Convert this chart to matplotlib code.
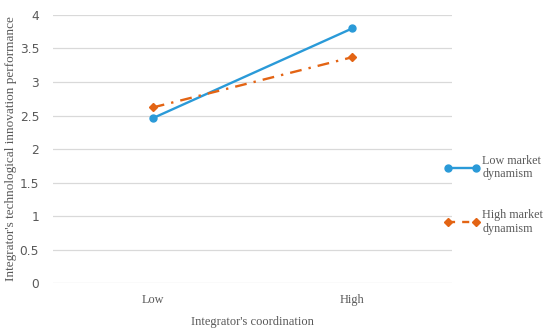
import matplotlib
matplotlib.use('Agg')
import matplotlib.pyplot as plt
from matplotlib.lines import Line2D

# data
categories = ['Low', 'High']
low_dyn = [2.46, 3.80]
high_dyn = [2.62, 3.37]
series_names = ['Low market\ndynamism', 'High market\ndynamism']
yticks = [0, 0.5, 1, 1.5, 2, 2.5, 3, 3.5, 4]

BLUE = '#2a9ad8'
ORANGE = '#e36414'
GRID = '#d9d9d9'
TXT = '#595959'
SERIF = ['Liberation Serif', 'DejaVu Serif']

fig = plt.figure(figsize=(5.5, 3.33), dpi=100)
ax = fig.add_axes([0.0964, 0.150, 0.7255, 0.805])

x = range(len(categories))
ax.plot(x, low_dyn, color=BLUE, lw=1.7, marker='o', ms=5, solid_capstyle='round')
ax.plot(x, high_dyn, color=ORANGE, lw=1.7, ls=(0, (5, 3, 1, 3)), marker='D', ms=3.8)

ax.set_xlim(-0.5, 1.5)
ax.set_ylim(0, 4)
ax.set_yticks(yticks)
ax.set_yticklabels(['0', '0.5', '1', '1.5', '2', '2.5', '3', '3.5', '4'])
ax.set_xticks(list(x))
ax.set_xticklabels(categories, family=SERIF)
ax.tick_params(length=0, labelsize=8.8, labelcolor=TXT)
ax.tick_params(axis='y', pad=10)
ax.tick_params(axis='x', pad=8)
ax.grid(axis='y', color=GRID, lw=0.9)
ax.set_axisbelow(True)
for s in ax.spines.values():
    s.set_visible(False)

ax.set_xlabel("Integrator's coordination", family=SERIF, fontsize=9, color=TXT, labelpad=7)
ax.set_ylabel("Integrator's technological innovation performance", family=SERIF,
              fontsize=9.5, color=TXT, labelpad=2)

handles = [Line2D([], [], color=BLUE, lw=1.7, marker='o', ms=5),
           Line2D([], [], color=ORANGE, lw=1.7, ls=(0, (3, 3)), marker='D', ms=3.8)]
leg = fig.legend(handles, series_names, loc='center left', bbox_to_anchor=(0.799, 0.415),
                 frameon=False, numpoints=2, handlelength=2.9, handletextpad=0.25,
                 labelspacing=2.4, borderaxespad=0, prop={'family': SERIF, 'size': 8.7})
for t in leg.get_texts():
    t.set_color(TXT)

fig.savefig('out.png', dpi=100)
